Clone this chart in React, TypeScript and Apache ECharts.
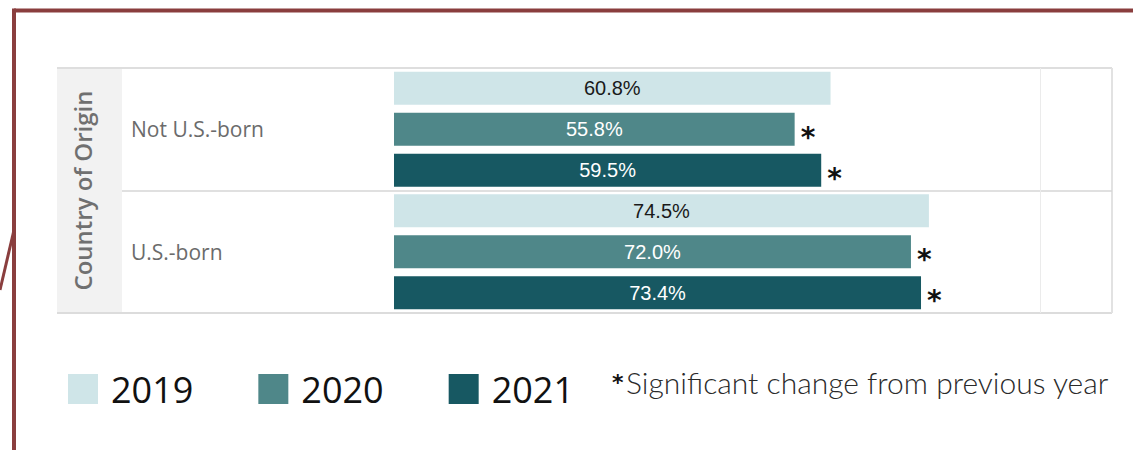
import React, { useEffect, useRef } from "react";
import * as echarts from "echarts";

const categories = ["Not U.S.-born", "U.S.-born"];
const years = ["2019", "2020", "2021"];
const values2019 = [60.8, 74.5];
const values2020 = [55.8, 72.0];
const values2021 = [59.5, 73.4];
const significant2020 = [true, true];
const significant2021 = [true, true];
const gridlineValues = [90];
const footnote = "Significant change from previous year";

const colors = ["#cfe5e8", "#4f8789", "#175862"];
const labelColors = ["#1a1a1a", "#ffffff", "#ffffff"];
const BAR_W = 33;
const BAR_GAP = 8;

export default function App() {
  const ref = useRef<HTMLDivElement>(null);
  useEffect(() => {
    if (!ref.current) return;
    const chart = echarts.init(ref.current, null, { renderer: "svg" });
    const seriesValues = [values2019, values2020, values2021];
    const sigs = [null, significant2020, significant2021];

    const barSeries: any[] = years.map((y, k) => ({
      name: y,
      type: "bar",
      data: seriesValues[k],
      barWidth: BAR_W,
      barGap: (BAR_GAP / BAR_W) * 100 + "%",
      itemStyle: { color: colors[k] },
      label: {
        show: true,
        position: "inside",
        formatter: (p: any) => p.value.toFixed(1) + "%",
        color: labelColors[k],
        fontFamily: "Liberation Sans",
        fontSize: 20,
      },
      markLine:
        k === 0
          ? {
              silent: true,
              symbol: "none",
              label: { show: false },
              lineStyle: { color: "#ebebeb", type: "solid", width: 1 },
              data: gridlineValues.map((v) => ({ xAxis: v })),
            }
          : undefined,
    }));

    const starSeries: any[] = [1, 2].map((k) => ({
      name: "sig" + years[k],
      type: "custom",
      data: seriesValues[k]
        .map((v, i) => ((sigs[k] as boolean[])[i] ? [v, i] : null))
        .filter((d) => d !== null),
      renderItem: (params: any, api: any) => {
        const p = api.coord([api.value(0), api.value(1)]);
        const offset = (k - 1) * (BAR_W + BAR_GAP);
        return {
          type: "text",
          x: p[0] + 6,
          y: p[1] + offset + 8,
          style: {
            text: "*",
            fill: "#111",
            font: "bold 28px 'DejaVu Sans'",
            verticalAlign: "middle",
            align: "left",
          },
        };
      },
      z: 5,
    }));

    chart.setOption({
      animation: false,
      grid: { left: 394, right: 21, top: 68, bottom: 137 },
      xAxis: {
        type: "value",
        min: 0,
        max: 100,
        show: false,
      },
      yAxis: {
        type: "category",
        data: categories,
        inverse: true,
        axisLine: { show: false },
        axisTick: { show: false },
        splitLine: { show: false },
        axisLabel: {
          align: "left",
          margin: 263,
          color: "#6b6b6b",
          fontFamily: "Open Sans",
          fontSize: 21,
        },
        name: "Country of Origin",
        nameLocation: "middle",
        nameRotate: 90,
        nameGap: 300,
        nameTextStyle: {
          color: "#707070",
          fontFamily: "Open Sans",
          fontSize: 24,
          fontWeight: 600,
        },
      },
      legend: {
        data: years,
        left: 68,
        top: 371,
        padding: 0,
        icon: "rect",
        itemWidth: 30,
        itemHeight: 30,
        itemGap: 65,
        textStyle: {
          fontFamily: "Open Sans",
          fontSize: 36,
          color: "#111",
          padding: [0, 0, 0, 8],
        },
        selectedMode: false,
      },
      graphic: [
        { type: "rect", z: -10, shape: { x: 57, y: 68, width: 65, height: 245 }, style: { fill: "#f2f2f2" } },
        { type: "line", shape: { x1: 57, y1: 68, x2: 1112, y2: 68 }, style: { stroke: "#dedede", lineWidth: 2 } },
        { type: "line", shape: { x1: 57, y1: 313, x2: 1112, y2: 313 }, style: { stroke: "#dcdcdc", lineWidth: 2 } },
        { type: "line", shape: { x1: 1112, y1: 68, x2: 1112, y2: 313 }, style: { stroke: "#e2e2e2", lineWidth: 2 } },
        { type: "line", shape: { x1: 122, y1: 191, x2: 1112, y2: 191 }, style: { stroke: "#d6d6d6", lineWidth: 1.5 } },
        { type: "line", shape: { x1: 14, y1: 10.5, x2: 1133, y2: 10.5 }, style: { stroke: "#8a3e3e", lineWidth: 4 } },
        { type: "line", shape: { x1: 14, y1: 8.5, x2: 14, y2: 450 }, style: { stroke: "#8a3e3e", lineWidth: 4 } },
        { type: "line", shape: { x1: 14, y1: 230, x2: 0, y2: 290 }, style: { stroke: "#8a3e3e", lineWidth: 3 } },
        {
          type: "text",
          x: 612,
          y: 371,
          style: { text: "*", fill: "#111", font: "bold 22px 'DejaVu Sans'" },
        },
        {
          type: "text",
          x: 626,
          y: 367,
          style: { text: footnote, fill: "#2a2a2a", font: "300 30px 'Lato'" },
        },
      ],
      series: [...barSeries, ...starSeries],
    });
    return () => chart.dispose();
  }, []);
  return (
    <div
      ref={ref}
      style={{ position: "fixed", left: 0, top: 0, width: 1133, height: 450, background: "#fff" }}
    />
  );
}
